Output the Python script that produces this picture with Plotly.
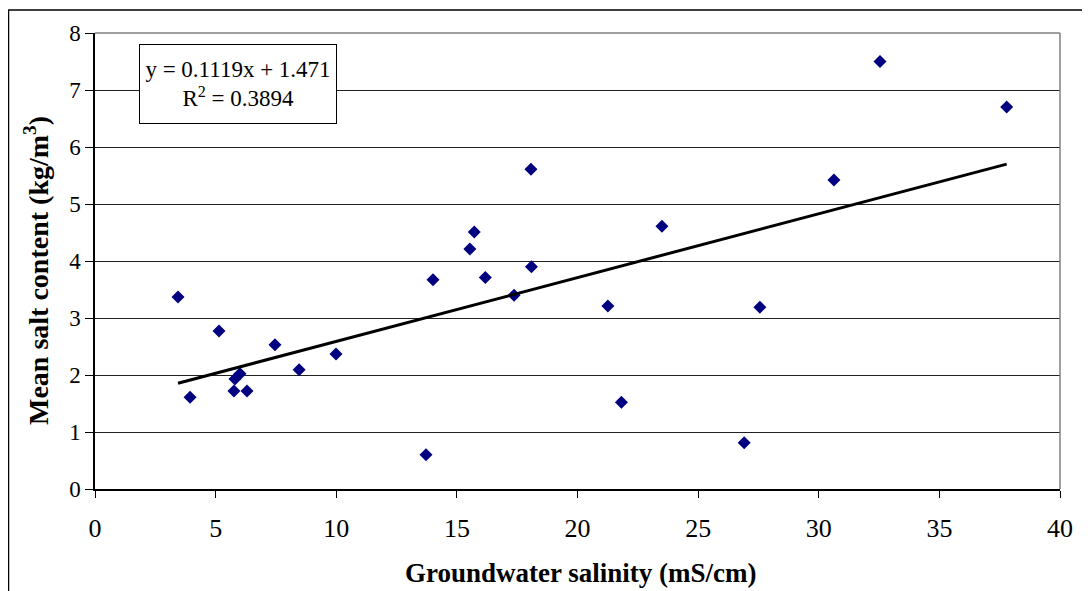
import plotly.graph_objects as go

# Data
salinity = [3.44, 3.94, 5.14, 5.80, 5.76, 6.01, 6.30, 7.46, 8.46, 9.99,
            13.72, 14.01, 15.54, 15.72, 16.18, 17.37, 18.09, 18.07, 21.26, 21.82,
            23.50, 26.91, 27.56, 30.63, 32.54, 37.79]
salt_content = [3.37, 1.61, 2.77, 1.93, 1.72, 2.02, 1.72, 2.53, 2.09, 2.37,
                0.60, 3.67, 4.21, 4.51, 3.71, 3.40, 3.90, 5.61, 3.21, 1.52,
                4.61, 0.81, 3.19, 5.42, 7.50, 6.70]

slope = 0.1119
intercept = 1.471
r_squared = 0.3894

x_ticks = [0, 5, 10, 15, 20, 25, 30, 35, 40]
y_ticks = [0, 1, 2, 3, 4, 5, 6, 7, 8]

x_title = "<b>Groundwater salinity (mS/cm)</b>"
y_title = "<b>Mean salt content (kg/m<sup>3</sup>)</b>"

FONT = "Liberation Serif, Times New Roman, serif"

# page has an 8px body margin; size the figure so the plot area lands
# at the reference pixel positions
OFF = 8
W, H = 1090 - OFF, 591 - OFF
ML, MR, MT, MB = 95 - OFF, 30, 33 - OFF, 102
PW, PH = W - ML - MR, H - MT - MB


def px_x(p):
    return (p - OFF - ML) / PW


def px_y(p):
    return (591 - MB - p) / PH


fig = go.Figure()

trend_x = [min(salinity), max(salinity)]
trend_y = [slope * v + intercept for v in trend_x]

fig.add_trace(go.Scatter(
    x=salinity, y=salt_content, mode="markers",
    marker=dict(symbol="diamond", size=10, color="#000080",
                line=dict(width=0)),
    showlegend=False, hoverinfo="x+y"))

fig.add_trace(go.Scatter(
    x=trend_x, y=trend_y, mode="lines",
    line=dict(color="black", width=3),
    showlegend=False, hoverinfo="skip"))

shapes = [
    # outer chart frame (left and top visible)
    dict(type="rect", xref="paper", yref="paper",
         x0=px_x(8.5), x1=px_x(1100), y0=px_y(600), y1=px_y(10),
         line=dict(color="black", width=1.5), layer="below"),
    # plot area border top and right in grey
    dict(type="line", xref="paper", yref="paper",
         x0=0, x1=1, y0=1, y1=1, line=dict(color="#808080", width=1.5)),
    dict(type="line", xref="paper", yref="paper",
         x0=1, x1=1, y0=0, y1=1, line=dict(color="#808080", width=1.5)),
]

fig.update_layout(
    width=W, height=H,
    margin=dict(l=ML, r=MR, t=MT, b=MB),
    paper_bgcolor="white", plot_bgcolor="white",
    font=dict(family=FONT, size=24, color="black"),
    shapes=shapes,
    annotations=[
        dict(xref="paper", yref="paper",
             x=px_x(237.5), y=px_y(84), xanchor="center", yanchor="middle",
             text=f"y = {slope}x + {intercept}<br>R<sup>2</sup> = {r_squared}",
             showarrow=False, align="center",
             font=dict(family=FONT, size=23, color="black"),
             bgcolor="white", bordercolor="black", borderwidth=1,
             borderpad=3, width=190, height=72),
        dict(xref="paper", yref="paper",
             x=px_x(581), y=px_y(573), xanchor="center", yanchor="middle",
             text=x_title, showarrow=False,
             font=dict(family=FONT, size=27, color="black")),
        dict(xref="paper", yref="paper",
             x=px_x(36), y=px_y(271), xanchor="center", yanchor="middle",
             text=y_title, showarrow=False, textangle=-90,
             font=dict(family=FONT, size=28, color="black")),
    ],
    xaxis=dict(
        range=[0, 40], tickvals=x_ticks, ticktext=[str(v) for v in x_ticks],
        showgrid=False, zeroline=False, automargin=False,
        showline=True, linecolor="black", linewidth=1.5,
        ticks="outside", ticklen=7, tickcolor="black", tickwidth=1,
        ticklabelstandoff=8,
        tickfont=dict(family=FONT, size=26, color="black"),
    ),
    yaxis=dict(
        range=[0, 8], tickvals=y_ticks, ticktext=[str(v) for v in y_ticks],
        showgrid=True, gridcolor="#222222", gridwidth=1,
        zeroline=False, automargin=False,
        showline=True, linecolor="black", linewidth=1.5,
        ticks="outside", ticklen=8, tickcolor="black", tickwidth=1,
        tickfont=dict(family=FONT, size=23, color="black"),
    ),
)

fig.write_html("out.html")
